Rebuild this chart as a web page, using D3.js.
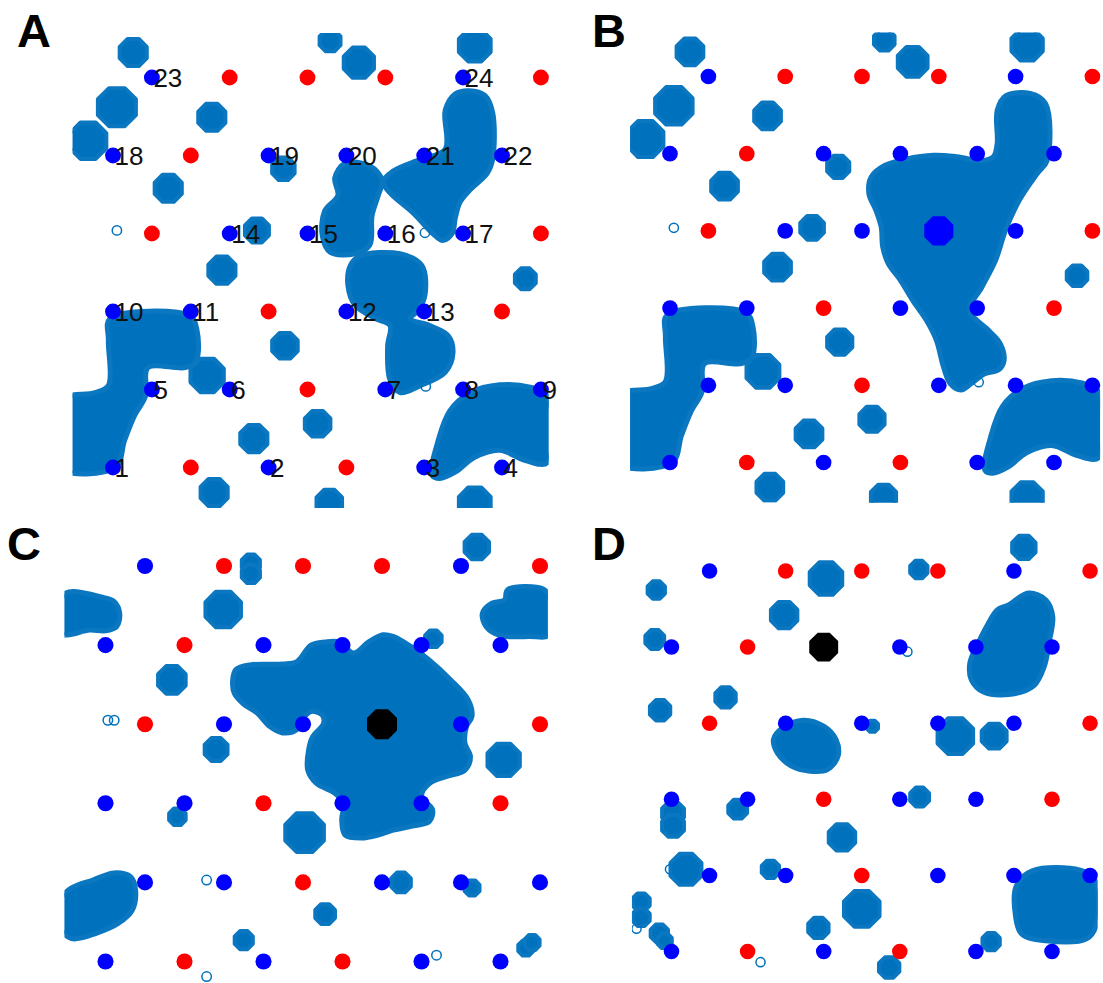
<!DOCTYPE html>
<html lang="en">
<head>
<meta charset="UTF-8">
<title>lattice clusters</title>
<script src="https://cdn.jsdelivr.net/npm/d3@7/dist/d3.min.js"></script>
<style>
    body { margin: 0; background: #fff; }
    svg { display: block; font-family: "Liberation Sans", Arial, sans-serif; }
</style>
</head>
<body>
<div id="chart"></div>
<script>
// lattice sites, x in columns, y in rows counted from the bottom row
var blueSites = [[0,0],[2,0],[4,0],[5,0],[0.5,1],[1.5,1],[3.5,1],[4.5,1],[5.5,1],[0,2],[1,2],[3,2],[4,2],
                 [1.5,3],[2.5,3],[3.5,3],[4.5,3],[0,4],[2,4],[3,4],[4,4],[5,4],[0.5,5],[4.5,5]];
var blueLabels = ["1","2","3","4","5","6","7","8","9","10","11","12","13","14","15","16","17","18","19","20","21","22","23","24"];
var redSites = [[1.5,5],[2.5,5],[3.5,5],[5.5,5],[1,4],[0.5,3],[5.5,3],[2,2],[5,2],[2.5,1],[1,0],[3,0]];

var panelNames = ["A", "B", "C", "D"];
var markedSite = {B: "16", C: "16", D: "19"};
var markedColor = {B: "#0000ff", C: "#000000", D: "#000000"};

// small clusters: [x, y, radius] in lattice units
var discsAB = [[0.26,5.32,0.2],[1.27,4.49,0.2],[0.71,3.58,0.2],[1.85,3.04,0.18],[2.19,3.83,0.17],[1.40,2.53,0.2],
               [2.21,1.56,0.19],[1.21,1.18,0.24],[1.81,0.37,0.2],[1.30,-0.32,0.2],[2.63,0.56,0.19],[5.30,2.42,0.16],
               [2.78,-0.45,0.19],[4.65,-0.46,0.23],[2.79,5.47,0.16],[3.16,5.19,0.22],[4.65,5.41,0.23],
               [0.05,4.62,0.27],[-0.32,4.19,0.26]];
var discsC = [[4.70,5.24,0.18],[1.84,5.03,0.14],[1.84,4.90,0.14],[1.49,4.45,0.25],[0.84,3.56,0.2],[4.15,4.08,0.13],
              [1.40,2.68,0.17],[5.04,2.55,0.23],[0.91,1.83,0.13],[2.52,1.63,0.27],[3.74,1.0,0.15],[4.64,0.93,0.12],
              [2.78,0.60,0.15],[1.75,0.27,0.14],[5.32,0.17,0.12],[5.40,0.24,0.12]];
var discsD = [[4.63,5.31,0.18],[2.03,4.90,0.24],[3.25,5.02,0.14],[-0.20,4.75,0.14],[1.48,4.42,0.2],[-0.22,4.10,0.15],
              [0.71,3.34,0.16],[-0.15,3.17,0.16],[2.64,2.96,0.1],[3.26,2.03,0.15],[0.02,1.82,0.17],[0.02,1.65,0.17],
              [0.87,1.87,0.15],[2.24,1.50,0.2],[0.19,1.08,0.23],[1.30,1.08,0.14],[2.50,0.56,0.26],[1.93,0.31,0.16],
              [4.20,0.13,0.14],[2.86,-0.21,0.16],[-0.40,0.65,0.14],[-0.40,0.45,0.14],[-0.16,0.24,0.14],
              [-0.09,0.14,0.12],[3.73,2.83,0.26],[4.24,2.83,0.19]];

// tiny open rings
var ringsAB = [[0.05,3.04],[4.02,1.04],[4.01,3.01]];
var ringsC = [[0.11,3.05],[0.03,3.05],[1.28,1.03],[4.19,0.08],[1.28,-0.19]];
var ringsD = [[1.17,-0.14],[-0.46,0.30],[3.10,3.94],[-0.02,1.08]];

// large clusters, outlines in lattice units
var shapeA1 = [[4.40,4.79],[4.58,4.83],[4.78,4.77],[4.88,4.55],[4.88,3.95],[4.81,3.77],[4.59,3.56],[4.46,3.40],[4.40,3.20],
               [4.36,3.00],[4.24,2.91],[4.11,3.00],[3.86,3.26],[3.56,3.52],[3.47,3.66],[3.60,3.80],[3.95,3.95],[4.27,4.08],[4.27,4.58]];
var shapeA2 = [[2.98,3.90],[3.30,3.87],[3.46,3.68],[3.41,3.49],[3.33,3.23],[3.30,2.85],[3.11,2.74],[2.79,2.76],
               [2.69,2.97],[2.72,3.29],[2.89,3.49],[2.85,3.71]];
var shapeA3 = [[3.17,2.71],[3.69,2.74],[3.97,2.59],[4.01,2.21],[3.92,2.01],[3.82,1.91],[4.07,1.82],[4.31,1.69],[4.37,1.47],
               [4.27,1.22],[3.95,1.05],[3.69,0.96],[3.56,1.12],[3.53,1.56],[3.56,1.82],[3.37,1.91],[3.11,2.08],[3.02,2.33],[3.05,2.59]];
var shapeAB4 = [[-0.04,1.91],[0.99,1.94],[1.08,1.76],[1.07,1.37],[0.93,1.28],[0.45,1.28],[0.42,0.92],[0.28,0.67],
                [0.15,0.35],[0.03,0.00],[-0.70,0.00],[-0.70,0.86],[-0.23,0.96],[-0.06,1.05],[-0.06,1.63]];
var shapeAB5 = [[4.10,-0.10],[4.18,0.35],[4.33,0.73],[4.59,0.96],[4.97,1.06],[5.36,1.03],[5.58,0.92],[5.58,0.06],
                [5.30,0.09],[4.97,0.22],[4.65,0.13],[4.40,-0.06],[4.20,-0.14]];
var shapeB1 = [[4.37,4.75],[4.69,4.78],[4.89,4.65],[4.91,3.91],[4.78,3.74],[4.55,3.40],[4.37,3.01],[4.24,2.62],[4.06,2.27],
               [3.90,1.97],[4.15,1.71],[4.30,1.54],[4.35,1.32],[4.28,1.20],[4.10,1.15],[3.92,1.02],[3.79,0.94],[3.65,1.02],
               [3.56,1.24],[3.47,1.58],[3.34,1.84],[3.16,2.10],[3.00,2.36],[2.84,2.58],[2.77,2.79],[2.75,3.05],[2.68,3.27],
               [2.59,3.48],[2.62,3.70],[2.80,3.85],[3.07,3.93],[3.43,3.98],[3.74,3.96],[4.06,3.91],[4.21,3.96],[4.26,4.13],[4.26,4.56]];
var shapeC1 = [[1.65,3.69],[1.83,3.75],[2.24,3.76],[2.42,3.79],[2.60,4.00],[2.78,4.04],[2.96,4.04],[3.14,3.90],[3.33,4.04],
               [3.51,4.13],[3.64,4.11],[3.87,3.98],[4.10,3.81],[4.37,3.56],[4.59,3.31],[4.64,3.10],[4.57,2.97],[4.55,2.76],
               [4.62,2.59],[4.55,2.42],[4.32,2.34],[4.10,2.25],[4.00,2.09],[4.14,1.92],[4.10,1.77],[3.87,1.71],[3.64,1.66],
               [3.46,1.60],[3.24,1.56],[3.03,1.60],[2.99,1.79],[3.01,2.00],[2.90,2.13],[2.67,2.25],[2.56,2.42],[2.57,2.67],
               [2.62,2.84],[2.76,3.01],[2.74,3.12],[2.60,3.16],[2.51,3.08],[2.42,2.93],[2.24,2.89],[2.08,2.97],[1.92,3.14],
               [1.74,3.26],[1.63,3.39],[1.61,3.56]];
var shapeC2 = [[-0.50,4.66],[-0.02,4.60],[0.11,4.55],[0.18,4.40],[0.14,4.23],[0.00,4.18],[-0.20,4.19],[-0.55,4.14],[-0.60,4.44]];
var shapeC3 = [[5.09,4.70],[5.54,4.71],[5.62,4.61],[5.62,4.13],[5.36,4.11],[5.00,4.12],[4.82,4.23],[4.77,4.40],[4.89,4.53],[5.05,4.57]];
var shapeC4 = [[-0.43,0.93],[-0.16,1.03],[0.11,1.12],[0.32,1.07],[0.38,0.91],[0.34,0.65],[0.16,0.48],[-0.11,0.36],
               [-0.43,0.29],[-0.58,0.44],[-0.58,0.78]];
var shapeD1 = [[4.42,4.55],[4.69,4.71],[4.92,4.62],[5.01,4.40],[4.96,4.05],[4.90,3.75],[4.76,3.49],[4.46,3.38],[4.10,3.41],
               [3.94,3.57],[3.92,3.79],[4.01,4.01],[4.14,4.27],[4.28,4.49]];
var shapeD2 = [[1.73,3.04],[2.00,2.96],[2.16,2.79],[2.19,2.57],[2.05,2.39],[1.82,2.37],[1.57,2.44],[1.39,2.61],[1.34,2.79],[1.46,2.94]];
var shapeD3 = [[4.74,1.06],[5.37,1.07],[5.56,0.95],[5.58,0.34],[5.46,0.17],[4.92,0.14],[4.60,0.23],[4.52,0.47],[4.53,0.86]];

var panelData = {
    A: {discs: discsAB, rings: ringsAB, shapes: [shapeA1, shapeA2, shapeA3, shapeAB4, shapeAB5]},
    B: {discs: discsAB, rings: ringsAB, shapes: [shapeAB4, shapeAB5, shapeB1]},
    C: {discs: discsC, rings: ringsC, shapes: [shapeC1, shapeC2, shapeC3, shapeC4]},
    D: {discs: discsD, rings: ringsD, shapes: [shapeD1, shapeD2, shapeD3]}
};

// where each panel's lattice sits on the page
var layout = {
    A: {x: [113, 502], y: [467.5, 77.5], label: [17, 47]},
    B: {x: [670, 1054], y: [462.5, 76.5], label: [592, 47]},
    C: {x: [105.5, 500.5], y: [961.5, 566], label: [7, 560]},
    D: {x: [671.5, 1052], y: [951.5, 571], label: [592, 560]}
};

var width = 1103, height = 983;
var blobColor = "#0072bd";
var edgeColor = "#0a77c0";

var svg = d3.select("#chart").append("svg")
    .attr("width", width)
    .attr("height", height);

// octagon like the matlab circle marker at this size
function octagon(cx, cy, r) {
    var R = r / Math.cos(Math.PI / 8);
    var pts = d3.range(8).map(function (k) {
        var a = Math.PI / 8 + k * Math.PI / 4;
        return [cx + R * Math.cos(a), cy + R * Math.sin(a)];
    });
    return "M" + pts.join("L") + "Z";
}

panelNames.forEach(function (name) {
    var lay = layout[name];
    var data = panelData[name];
    var x = d3.scaleLinear().domain([0, 5]).range(lay.x);
    var y = d3.scaleLinear().domain([0, 5]).range(lay.y);
    var unit = x(1) - x(0);

    var g = svg.append("g").attr("class", "panel-" + name);

    g.append("clipPath").attr("id", "clip-" + name)
        .append("rect")
        .attr("x", x(-0.52))
        .attr("y", y(5.57))
        .attr("width", x(5.6) - x(-0.52))
        .attr("height", y(-0.52) - y(5.57));

    var blobs = g.append("g").attr("clip-path", "url(#clip-" + name + ")");

    var outline = d3.line()
        .x(function (d) { return x(d[0]); })
        .y(function (d) { return y(d[1]); })
        .curve(d3.curveCatmullRomClosed.alpha(0.5));

    blobs.selectAll("path.shape")
        .data(data.shapes)
        .enter()
        .append("path")
        .attr("class", "shape")
        .attr("d", outline)
        .attr("fill", blobColor)
        .attr("stroke", edgeColor)
        .attr("stroke-width", 5)
        .attr("stroke-linejoin", "round");

    blobs.selectAll("path.disc")
        .data(data.discs)
        .enter()
        .append("path")
        .attr("class", "disc")
        .attr("d", function (d) { return octagon(x(d[0]), y(d[1]), d[2] * unit - 2); })
        .attr("fill", blobColor)
        .attr("stroke", edgeColor)
        .attr("stroke-width", 4)
        .attr("stroke-linejoin", "round");

    blobs.selectAll("circle.ring")
        .data(data.rings)
        .enter()
        .append("circle")
        .attr("class", "ring")
        .attr("cx", function (d) { return x(d[0]); })
        .attr("cy", function (d) { return y(d[1]); })
        .attr("r", 0.06 * unit)
        .attr("fill", "none")
        .attr("stroke", blobColor)
        .attr("stroke-width", 1.5);

    // regular sites
    g.selectAll("circle.red")
        .data(redSites)
        .enter()
        .append("circle")
        .attr("class", "red")
        .attr("cx", function (d) { return x(d[0]); })
        .attr("cy", function (d) { return y(d[1]); })
        .attr("r", 0.102 * unit)
        .attr("fill", "#ff0000");

    var blues = blueSites.map(function (d, i) { return {p: d, label: blueLabels[i]}; });

    g.selectAll("circle.blue")
        .data(blues.filter(function (d) { return d.label !== markedSite[name]; }))
        .enter()
        .append("circle")
        .attr("class", "blue")
        .attr("cx", function (d) { return x(d.p[0]); })
        .attr("cy", function (d) { return y(d.p[1]); })
        .attr("r", 0.102 * unit)
        .attr("fill", "#0000ff");

    // highlighted site
    g.selectAll("path.marked")
        .data(blues.filter(function (d) { return d.label === markedSite[name]; }))
        .enter()
        .append("path")
        .attr("class", "marked")
        .attr("d", function (d) { return octagon(x(d.p[0]), y(d.p[1]), 0.19 * unit); })
        .attr("fill", markedColor[name]);

    if (name === "A") {
        g.selectAll("text.num")
            .data(blues)
            .enter()
            .append("text")
            .attr("class", "num")
            .attr("x", function (d) { return x(d.p[0]) + 1.5; })
            .attr("y", function (d) { return y(d.p[1]) + 9.5; })
            .attr("font-size", 26)
            .attr("fill", "#111")
            .text(function (d) { return d.label; });
    }

    svg.append("text")
        .attr("x", lay.label[0])
        .attr("y", lay.label[1])
        .attr("font-size", 47)
        .attr("font-weight", "bold")
        .attr("fill", "#000")
        .text(name);
});
</script>
</body>
</html>
